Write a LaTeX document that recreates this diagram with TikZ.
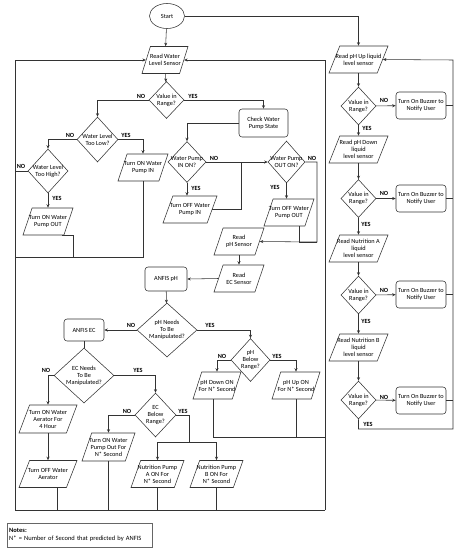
\documentclass[tikz,border=0pt]{standalone}
\usepackage{fontspec}
\setmainfont{Carlito}
\usetikzlibrary{shapes.geometric,arrows.meta,calc}
\begin{document}
\begin{tikzpicture}[x=1pt,y=-1pt,
  ln/.style={draw=black!80, line width=0.55pt},
  arr/.style={ln, -{Stealth[length=3.5pt,width=3pt]}},
  txt/.style={font=\fontsize{6.3}{7}\selectfont, align=center, inner sep=0pt},
  io/.style={ln, trapezium, trapezium left angle=74, trapezium right angle=106, trapezium stretches=true, minimum height=27pt, inner sep=1pt},
  dia/.style={ln, diamond, inner sep=1pt},
  rbox/.style={ln, rounded corners=3pt, txt, minimum height=27pt},
  yn/.style={font=\bfseries\fontsize{6.3}{7}\selectfont, inner sep=0pt},
]
\useasboundingbox (0,0) rectangle (460,550);

% ---------- left part ----------
\node[ln, ellipse, minimum width=35pt, minimum height=25pt, txt] (start) at (167,16) {Start};
\node[io, minimum width=46pt, label={[txt]center:Read Water\\Level Sensor}] (rw) at (165,60) {};
\node[dia, minimum width=35pt, minimum height=37pt, label={[txt]center:Value in\\Range?}] (d1) at (166.5,100) {};
\node[rbox, minimum width=49pt, minimum height=28pt] (check) at (263.5,123) {Check Water\\Pump State};
\node[dia, minimum width=41pt, minimum height=45pt, label={[txt]center:Water Level\\Too Low?}] (lowd) at (97.5,139.5) {};
\node[dia, minimum width=40pt, minimum height=44pt, label={[txt]center:Water Level\\Too High?}] (highd) at (48,171) {};
\node[io, minimum width=50pt, label={[txt]center:Turn ON Water\\Pump IN}] (pin) at (143,167.5) {};
\node[io, minimum width=50pt, label={[txt]center:Turn ON Water\\Pump OUT}] (pout) at (48,221.5) {};
\node[dia, minimum width=38pt, minimum height=41pt, label={[txt]center:Water Pump\\IN ON?}] (inon) at (187,162) {};
\node[dia, minimum width=37pt, minimum height=42pt, label={[txt]center:Water Pump\\OUT ON?}] (outon) at (286.5,162) {};
\node[io, minimum width=54pt, label={[txt]center:Turn OFF Water\\Pump IN}] (offin) at (190,209.5) {};
\node[io, minimum width=50pt, label={[txt]center:Turn OFF Water\\Pump OUT}] (offout) at (289,212.5) {};
\node[io, minimum width=50pt, label={[txt]center:Read\\pH Sensor}] (rphs) at (239,241.5) {};
\node[io, minimum width=50pt, label={[txt]center:Read\\EC Sensor}] (recs) at (239,278.5) {};
\node[rbox, minimum width=42pt, minimum height=24pt] (anph) at (166,279) {ANFIS pH};
\node[dia, minimum width=60pt, minimum height=54pt, label={[txt]center:pH Needs\\To Be\\Manipulated?}] (phn) at (167,330) {};
\node[rbox, minimum width=40pt, minimum height=22pt] (anec) at (84,330) {ANFIS EC};
\node[dia, minimum width=60pt, minimum height=55pt, label={[txt]center:EC Needs\\To Be\\Manipulated?}] (ecn) at (84,375.5) {};
\node[dia, minimum width=41pt, minimum height=44pt, label={[txt]center:EC\\Below\\Range?}] (ecb) at (155.5,415) {};
\node[dia, minimum width=39pt, minimum height=43pt, label={[txt]center:pH\\Below\\Range?}] (phb) at (250.5,360) {};
\node[io, minimum width=48pt, label={[txt]center:pH Down ON\\For N* Second}] (phd) at (217,385.5) {};
\node[io, minimum width=48pt, label={[txt]center:pH Up ON\\For N* Second}] (phu) at (296,385.5) {};
\node[io, minimum width=58pt, minimum height=28pt, label={[txt]center:Turn ON Water\\Aerator For\\4 Hour}] (aer) at (48,419) {};
\node[io, minimum width=58pt, label={[txt]center:Turn OFF Water\\Aerator}] (aoff) at (48,474) {};
\node[io, minimum width=53pt, minimum height=28pt, label={[txt]center:Turn ON Water\\Pump Out For\\N* Second}] (wpo) at (108.5,447) {};
\node[io, minimum width=53pt, label={[txt]center:Nutrition Pump\\A ON For\\N* Second}] (na) at (157.5,474) {};
\node[io, minimum width=53pt, label={[txt]center:Nutrition Pump\\B ON For\\N* Second}] (nb) at (216.5,474) {};

% ---------- right part ----------
\node[io, minimum width=59pt, label={[txt]center:Read pH Up liquid\\level sensor}] (rpu) at (358.5,59.5) {};
\node[dia, minimum width=35pt, minimum height=38pt, label={[txt]center:Value in\\Range?}] (r1) at (358.5,106) {};
\node[rbox, minimum width=50pt] (bz1) at (421,105.5) {Turn On Buzzer to\\Notify User};
\node[io, minimum width=59pt, label={[txt]center:Read pH Down\\liquid\\level sensor}] (rpd) at (358.5,149.5) {};
\node[dia, minimum width=35pt, minimum height=38pt, label={[txt]center:Value in\\Range?}] (r2) at (358.5,198.5) {};
\node[rbox, minimum width=50pt] (bz2) at (421,198.5) {Turn On Buzzer to\\Notify User};
\node[io, minimum width=59pt, label={[txt]center:Read Nutrition A\\liquid\\level sensor}] (rna) at (358.5,248.5) {};
\node[dia, minimum width=35pt, minimum height=38pt, label={[txt]center:Value in\\Range?}] (r3) at (358.5,295) {};
\node[rbox, minimum width=50pt] (bz3) at (421,294.5) {Turn On Buzzer to\\Notify User};
\node[io, minimum width=59pt, label={[txt]center:Read Nutrition B\\liquid\\level sensor}] (rnb) at (358.5,347.5) {};
\node[dia, minimum width=35pt, minimum height=38pt, label={[txt]center:Value in\\Range?}] (r4) at (358.5,400) {};
\node[rbox, minimum width=50pt] (bz4) at (421,400.5) {Turn On Buzzer to\\Notify User};

% ---------- notes ----------
\node[draw=black!60, line width=0.4pt, anchor=north west, text width=141pt, minimum height=24pt, inner sep=2pt, align=left, font=\fontsize{6.5}{8}\selectfont] (notes) at (7,523) {\textbf{Notes:}\\N* = Number of Second that predicted by ANFIS};

% ---------- coordinates ----------
\coordinate (lt) at (15,60);
\coordinate (lb) at (15,510);
\coordinate (rb) at (325,510);
\coordinate (rt) at (325,60);
\coordinate (c0) at (15,257);
\coordinate (c1) at (73,257);
\coordinate (c241) at (241,162);
\coordinate (c317) at (317,242);
\coordinate (c442) at (189,442);
\coordinate (c437) at (325,437);
\coordinate (rr) at (453,60);
\coordinate (rrb) at (453,429);

% ---------- connectors left ----------
\draw[arr] (start) -- (rw);
\draw[arr] (start.east) -| (rpu.north);
\draw[arr] (rw) -- (d1);
\draw[arr] (d1.west) -| (lowd.north);
\draw[arr] (d1.east) -| (check.north);
\draw[arr] (lowd.west) -| (highd.north);
\draw[arr] (lowd.east) -| (pin.north);
\draw[ln] (highd.west) -- (highd.west -| lt);
\draw[arr] (highd) -- (pout);
\draw[ln] (pout.south east) -| (c1) -- (c0);
\draw[ln] (pin.south) -- (pin.south |- c1) -- (c1);
\draw[arr] (lb) -- (lt) -- (rw.west);
\draw[ln] (lb) -- (rb);
\draw[arr] (rb) -- (rt) -- (rw.east);
\draw[arr] (check.west) -| (inon.north);
\draw[arr] (inon.east) -- (outon.west);
\draw[arr] (inon.south) -- (inon.south |- offin.north);
\draw[ln] (offin.east) -| (c241);
\draw[arr] (outon.east) -| (c317) -- (rphs.east);
\draw[arr] (outon.south) -- (outon.south |- offout.north);
\draw[ln] ($(offout.south)+(10,0)$) |- (c317);
\draw[arr] (rphs) -- (recs);
\draw[arr] (recs.west) -- (anph.east);
\draw[arr] (anph) -- (phn);
\draw[arr] (phn.west) -- (anec.east);
\draw[arr] (phn.east) -| (phb.north);
\draw[ln] (anec) -- (ecn);
\draw[arr] (ecn.west) -| (aer.north);
\draw[arr] (ecn.east) -| (ecb.north);
\draw[arr] (aer) -- (aoff);
\draw[ln] ($(aoff.south)+(9,0)$) coordinate (a1) -- (a1 |- lb);
\draw[arr] (ecb.west) -| (wpo.north);
\draw[ln] (ecb.east) -| (c442);
\draw[arr] (c442) -| (na.north);
\draw[arr] (c442) -| (nb.north);
\draw[ln] (wpo.south) -- (wpo.south |- lb);
\draw[ln] (na.south) -- (na.south |- lb);
\draw[ln] (nb.south) -- (nb.south |- lb);
\draw[arr] (phb.west) -| (phd.north);
\draw[arr] (phb.east) -| (phu.north);
\draw[ln] ($(phd.south)+(-4,0)$) |- (c437);
\draw[ln] (phu.south) -- (phu.south |- c437);

% ---------- connectors right ----------
\draw[arr] (rpu) -- (r1);
\draw[arr] (r1) -- (rpd);
\draw[arr] (rpd) -- (r2);
\draw[arr] (r2) -- (rna);
\draw[arr] (rna) -- (r3);
\draw[arr] (r3) -- (rnb);
\draw[arr] (rnb) -- (r4);
\draw[arr] (r1) -- (bz1);
\draw[arr] (r2) -- (bz2);
\draw[arr] (r3) -- (bz3);
\draw[arr] (r4) -- (bz4);
\draw[ln] (bz1.east) -- (bz1.east -| rr);
\draw[ln] (bz2.east) -- (bz2.east -| rr);
\draw[ln] (bz3.east) -- (bz3.east -| rr);
\draw[ln] (bz4.east) -- (bz4.east -| rr);
\draw[arr] (r4.south) |- (rrb) -- (rr) -- (rpu.east);

% ---------- YES / NO labels ----------
\node[yn] (l1) at (141,96) {NO};
\node[yn] (l2) at (193,96) {YES};
\node[yn] (l3) at (70,135) {NO};
\node[yn] (l4) at (126,135) {YES};
\node[yn] (l5) at (21,166) {NO};
\node[yn] (l6) at (57,198) {YES};
\node[yn] (l7) at (214,158) {NO};
\node[yn] (l8) at (196,188) {YES};
\node[yn] (l9) at (312,158) {NO};
\node[yn] (l10) at (275,187) {YES};
\node[yn] (l11) at (131,325) {NO};
\node[yn] (l12) at (210,325) {YES};
\node[yn] (l13) at (46,370) {NO};
\node[yn] (l14) at (138,370) {YES};
\node[yn] (l15) at (127,411) {NO};
\node[yn] (l16) at (183,411) {YES};
\node[yn] (l17) at (222,356) {NO};
\node[yn] (l18) at (277,356) {YES};
\node[yn] (l19) at (384,100) {NO};
\node[yn] (l20) at (367,128) {YES};
\node[yn] (l21) at (384,193) {NO};
\node[yn] (l22) at (366,224) {YES};
\node[yn] (l23) at (384,290) {NO};
\node[yn] (l24) at (366,321) {YES};
\node[yn] (l25) at (384,397) {NO};
\node[yn] (l26) at (368,424) {YES};
\end{tikzpicture}
\end{document}
